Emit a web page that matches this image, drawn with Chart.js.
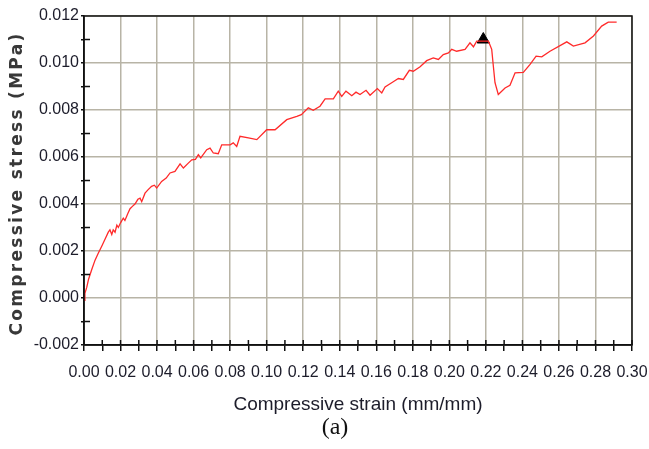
<!DOCTYPE html>
<html>
<head>
<meta charset="utf-8">
<script src="https://cdn.jsdelivr.net/npm/chart.js@4.4.0/dist/chart.umd.min.js"></script>
<style>
    body { margin: 0; background: #fff; }
    #wrap { position: relative; width: 649px; height: 449px; }
    #caption {
        position: absolute; left: 305px; top: 413px; width: 60px;
        text-align: center; font-family: "Liberation Serif", serif; font-size: 24px; color: #111;
    }
</style>
</head>
<body>
<div id="wrap">
    <canvas id="myChart" width="649" height="449"></canvas>
    <div id="caption">(a)</div>
</div>
<script>
// strain (mm/mm) and stress (MPa)
const strain = [0.0000, 0.0005, 0.0015, 0.0025, 0.0042, 0.0060, 0.0078, 0.0097, 0.0115, 0.0133,
    0.0142, 0.0152, 0.0160, 0.0170, 0.0180, 0.0188, 0.0200, 0.0215, 0.0224, 0.0240,
    0.0252, 0.0265, 0.0279, 0.0295, 0.0307, 0.0316, 0.0334, 0.0350, 0.0370, 0.0385,
    0.0398, 0.0425, 0.0450, 0.0471, 0.0498, 0.0526, 0.0544, 0.0571, 0.0590, 0.0610,
    0.0626, 0.0639, 0.0672, 0.0690, 0.0708, 0.0735, 0.0754, 0.0800, 0.0817, 0.0836,
    0.0854, 0.0900, 0.0946, 0.1000, 0.1046, 0.1110, 0.1165, 0.1190, 0.1228, 0.1255,
    0.1292, 0.1320, 0.1365, 0.1392, 0.1411, 0.1434, 0.1466, 0.1489, 0.1511, 0.1544,
    0.1566, 0.1606, 0.1630, 0.1648, 0.1693, 0.1721, 0.1748, 0.1781, 0.1803, 0.1840,
    0.1876, 0.1912, 0.1940, 0.1967, 0.1995, 0.2013, 0.2040, 0.2086, 0.2113, 0.2132,
    0.2150, 0.2177, 0.2214, 0.2232, 0.2241, 0.2250, 0.2268, 0.2305, 0.2332, 0.2360,
    0.2405, 0.2442, 0.2475, 0.2506, 0.2551, 0.2643, 0.2679, 0.2743, 0.2789, 0.2834,
    0.2870, 0.2916];
const stress = [-0.0001, 0.0002, 0.00045, 0.0008, 0.0012, 0.0016, 0.0019, 0.0022, 0.0025, 0.0028,
    0.0029, 0.0027, 0.0029, 0.0028, 0.0031, 0.0030, 0.0032, 0.0034, 0.0033, 0.0036,
    0.0038, 0.0039, 0.0040, 0.0042, 0.00425, 0.0041, 0.00446, 0.0046, 0.00475, 0.0048,
    0.00468, 0.00496, 0.0051, 0.00532, 0.00539, 0.00571, 0.00553, 0.00574, 0.00588, 0.0059,
    0.0061, 0.00596, 0.00631, 0.00638, 0.00617, 0.00614, 0.00652, 0.00652, 0.0066, 0.00645,
    0.00688, 0.00681, 0.00674, 0.00716, 0.00716, 0.00759, 0.00773, 0.0078, 0.00809, 0.00799,
    0.00816, 0.00847, 0.00847, 0.0088, 0.00858, 0.0088, 0.00861, 0.00876, 0.00866, 0.00884,
    0.00863, 0.00891, 0.00873, 0.00898, 0.0092, 0.00934, 0.0093, 0.00969, 0.00965, 0.00984,
    0.0101, 0.01022, 0.01015, 0.01036, 0.01043, 0.01058, 0.0105, 0.01058, 0.01086, 0.01069,
    0.01093, 0.01093, 0.01093, 0.01058, 0.00986, 0.00916, 0.00866, 0.00894, 0.00905, 0.00958,
    0.0096, 0.00994, 0.01029, 0.01026, 0.0105, 0.0109, 0.01072, 0.01086, 0.01115, 0.01157,
    0.01174, 0.01174];

// failure marker (black triangle)
const peakStrain = [0.2186];
const peakStress = [0.0110];

const yTitle = 'Compressive stress (MPa)';
const xTitle = 'Compressive strain (mm/mm)';

const gridGrey = '#b8b4a6';
const axisBlack = '#111';
const textColor = '#1c1c2a';

// frame around the plot, the small inward ticks and the spaced-out y title
const frameTicks = {
    id: 'frameTicks',
    afterDraw(chart) {
        let ctx = chart.ctx;
        let a = chart.chartArea;
        let x = chart.scales.x, y = chart.scales.y;
        ctx.save();
        ctx.strokeStyle = axisBlack;
        ctx.lineWidth = 1.5;
        ctx.strokeRect(a.left, a.top, a.right - a.left, a.bottom - a.top);
        ctx.beginPath();
        x.ticks.forEach(t => {
            let px = x.getPixelForValue(t.value);
            ctx.moveTo(px, a.bottom);
            ctx.lineTo(px, a.bottom - 5);
        });
        y.ticks.forEach(t => {
            if (Math.round(t.value * 1000) % 2 !== 0) {
                let py = y.getPixelForValue(t.value);
                ctx.moveTo(a.left, py);
                ctx.lineTo(a.left + 6, py);
            }
        });
        ctx.stroke();

        // y axis title, letter spaced like the original
        ctx.translate(18, (a.top + a.bottom) / 2 + 3);
        ctx.rotate(-Math.PI / 2);
        ctx.font = 'bold 17px "DejaVu Sans"';
        ctx.letterSpacing = '2.3px';
        ctx.fillStyle = '#383838';
        ctx.textAlign = 'center';
        ctx.textBaseline = 'middle';
        ctx.fillText(yTitle, 0, 0);
        ctx.restore();
    }
};

function drawChart() {
    let ctx = document.getElementById('myChart').getContext('2d');
    let chart = new Chart(ctx, {
        type: 'scatter',
        data: {
            datasets: [{
                data: strain.map((s, i) => ({x: s, y: stress[i]})),
                showLine: true,
                borderColor: '#ff2a2a',
                borderWidth: 1.3,
                pointRadius: 0,
                tension: 0
            }, {
                data: peakStrain.map((s, i) => ({x: s, y: peakStress[i]})),
                pointStyle: 'triangle',
                pointRadius: 7,
                backgroundColor: '#000',
                borderColor: '#000'
            }]
        },
        plugins: [frameTicks],
        options: {
            responsive: false,
            animation: false,
            layout: { padding: { left: 0, top: 16, right: 17, bottom: 0 } },
            plugins: { legend: { display: false }, tooltip: { enabled: false } },
            scales: {
                x: {
                    type: 'linear',
                    min: 0, max: 0.3,
                    afterFit: s => { s.height = 104; s.paddingLeft = 0; s.paddingRight = 0; },
                    border: { color: axisBlack, width: 1.5 },
                    grid: {
                        color: c => (c.tick && Math.round(c.tick.value * 100) % 2 === 0) ? gridGrey : 'transparent',
                        lineWidth: 1.5,
                        tickColor: axisBlack,
                        tickLength: 6
                    },
                    ticks: {
                        stepSize: 0.01,
                        autoSkip: false,
                        maxRotation: 0,
                        padding: 12,
                        color: textColor,
                        font: { family: 'Liberation Sans', size: 16 },
                        callback: v => Math.round(v * 100) % 2 === 0 ? v.toFixed(2) : ''
                    },
                    title: {
                        display: true,
                        text: xTitle,
                        color: textColor,
                        font: { family: 'Liberation Sans', size: 19 },
                        padding: { top: 0, bottom: 33 }
                    }
                },
                y: {
                    min: -0.002, max: 0.012,
                    afterFit: s => { s.width = 84; s.paddingTop = 0; s.paddingBottom = 0; },
                    border: { color: axisBlack, width: 1.5 },
                    grid: {
                        color: c => (c.tick && Math.round(c.tick.value * 1000) % 2 === 0) ? gridGrey : 'transparent',
                        lineWidth: 1.5,
                        tickColor: axisBlack,
                        tickLength: 3
                    },
                    ticks: {
                        stepSize: 0.001,
                        autoSkip: false,
                        padding: 2,
                        color: textColor,
                        font: { family: 'Liberation Sans', size: 16 },
                        callback: v => Math.round(v * 1000) % 2 === 0 ? v.toFixed(3) : ''
                    }
                }
            }
        }
    });
}

drawChart();
</script>
</body>
</html>
